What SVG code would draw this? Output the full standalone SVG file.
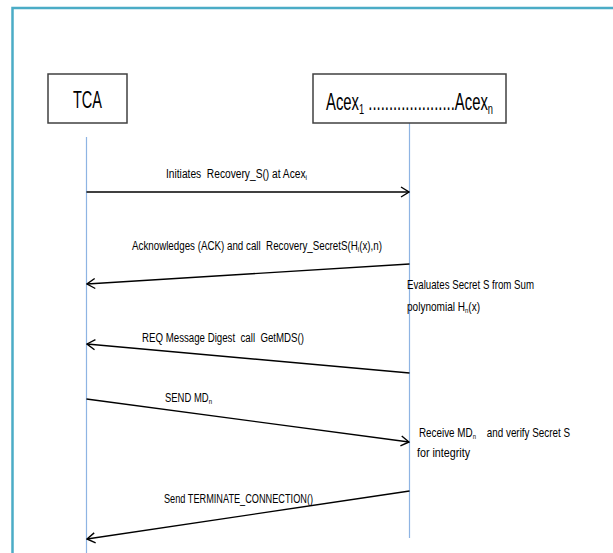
<svg xmlns="http://www.w3.org/2000/svg" width="613" height="553" viewBox="0 0 613 553">
<style>
.box{fill:#fff;stroke:#404040;stroke-width:1.5}
.life{stroke:#8EB4E3;stroke-width:1.2;fill:none}
.msg{stroke:#000;stroke-width:1.4;fill:none}
.t{font-family:"Liberation Sans",Arial,sans-serif;fill:#000;white-space:pre}
.title{font-size:24px}
.lbl{font-size:12.5px}
.note{font-size:13.5px}
</style>
<defs>
<marker id="arr" viewBox="0 0 10 12" refX="9" refY="6" markerWidth="10" markerHeight="12" markerUnits="userSpaceOnUse" orient="auto">
<path d="M1,1 L9,6 L1,11" fill="none" stroke="#000" stroke-width="1.4"/>
</marker>
</defs>
<rect width="613" height="553" fill="#fff"/>
<path d="M12.5,553 V8 H613" fill="none" stroke="#4BACC6" stroke-width="2.5"/>
<g id="lifelines">
<line class="life" x1="86.5" y1="137" x2="86.5" y2="553"/>
<line class="life" x1="409.5" y1="123" x2="409.5" y2="538"/>
</g>
<g id="node-tca">
<rect class="box" x="48" y="74" width="79" height="49"/>
<text class="t title" x="73" y="108" textLength="29" lengthAdjust="spacingAndGlyphs">TCA</text>
</g>
<g id="node-acex">
<rect class="box" x="313" y="74" width="193" height="49"/>
<text class="t title" x="326" y="110" textLength="167" lengthAdjust="spacingAndGlyphs">Acex<tspan font-size="15" dy="4">1</tspan><tspan dy="-4"> .....................Acex</tspan><tspan font-size="15" dy="4">n</tspan></text>
</g>
<g id="connectors">
<line class="msg" x1="86.5" y1="192" x2="409" y2="192" marker-end="url(#arr)"/>
<line class="msg" x1="409.5" y1="264" x2="87" y2="284" marker-end="url(#arr)"/>
<line class="msg" x1="409.5" y1="373" x2="87" y2="344" marker-end="url(#arr)"/>
<line class="msg" x1="86.5" y1="399" x2="409" y2="442" marker-end="url(#arr)"/>
<line class="msg" x1="409.5" y1="491" x2="87" y2="539" marker-end="url(#arr)"/>
</g>
<g id="labels">
<text class="t lbl" x="166" y="178" textLength="141" lengthAdjust="spacingAndGlyphs">Initiates  Recovery_S() at Acex<tspan font-size="8" dy="2">i</tspan></text>
<text class="t lbl" x="132" y="250" textLength="250" lengthAdjust="spacingAndGlyphs">Acknowledges (ACK) and call  Recovery_SecretS(H<tspan font-size="8" dy="2">i</tspan><tspan dy="-2">(x),n)</tspan></text>
<text class="t lbl" x="142" y="342" textLength="162" lengthAdjust="spacingAndGlyphs">REQ Message Digest  call  GetMDS()</text>
<text class="t lbl" x="165" y="402" textLength="47" lengthAdjust="spacingAndGlyphs">SEND MD<tspan font-size="8" dy="2">n</tspan></text>
<text class="t lbl" x="164" y="503" textLength="149" lengthAdjust="spacingAndGlyphs">Send TERMINATE_CONNECTION()</text>
</g>
<g id="note-evaluate">
<text class="t note" x="407" y="289" textLength="127" lengthAdjust="spacingAndGlyphs">Evaluates Secret S from Sum</text>
<text class="t note" x="407" y="311" textLength="73" lengthAdjust="spacingAndGlyphs">polynomial H<tspan font-size="8" dy="2">n</tspan><tspan dy="-2">(x)</tspan></text>
</g>
<g id="note-receive">
<text class="t note" x="419" y="437" textLength="151" lengthAdjust="spacingAndGlyphs">Receive MD<tspan font-size="8" dy="2">n</tspan><tspan dy="-2">    and verify Secret S</tspan></text>
<text class="t note" x="417" y="457" textLength="53" lengthAdjust="spacingAndGlyphs">for integrity</text>
</g>
</svg>
